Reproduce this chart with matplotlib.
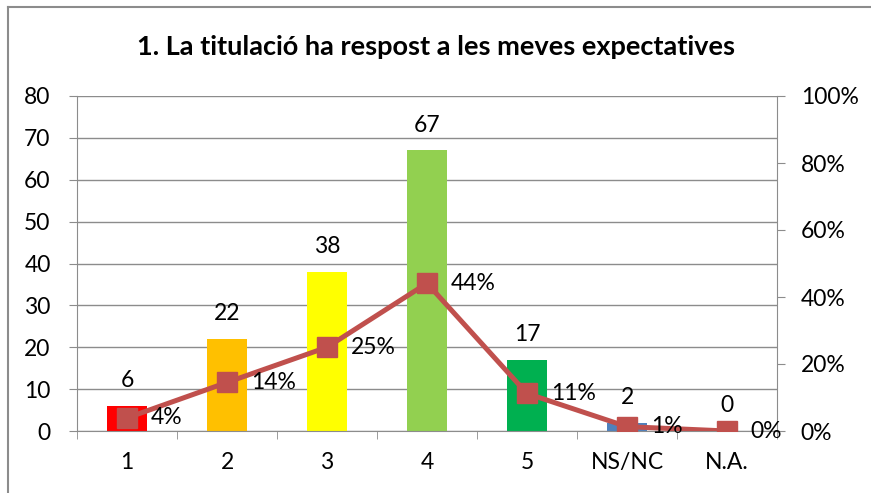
import matplotlib
matplotlib.use("Agg")
import matplotlib.pyplot as plt
from matplotlib.lines import Line2D

categories = ["1", "2", "3", "4", "5", "NS/NC", "N.A."]
counts = [6, 22, 38, 67, 17, 2, 0]
percents = [0.039, 0.145, 0.25, 0.441, 0.112, 0.013, 0.0]
pct_labels = ["4%", "14%", "25%", "44%", "11%", "1%", "0%"]
bar_colors = ["#FF0000", "#FFC000", "#FFFF00", "#92D050", "#00B050", "#4F81BD", "#4F81BD"]
title = "1. La titulació ha respost a les meves expectatives"

plt.rcParams['font.family'] = ['Lato', 'DejaVu Sans']

W, H = 871, 493
FS = 16.5
fig = plt.figure(figsize=(W / 100, H / 100), dpi=100)
ax = fig.add_axes([77 / W, 1 - 431 / H, 700 / W, (431 - 96) / H])
ax2 = ax.twinx()

x = list(range(len(categories)))
ax.bar(x, counts, width=0.4, color=bar_colors, zorder=2)
ax.set_xlim(-0.5, len(categories) - 0.5)
ax.set_ylim(0, 80)
ax.set_yticks(range(0, 81, 10))
ax.grid(axis='y', color='#8c8c8c', linewidth=1.0, zorder=0)
ax.set_axisbelow(True)

gray = '#8c8c8c'
for s in ['top']:
    ax.spines[s].set_visible(False)
    ax2.spines[s].set_visible(False)
for a in (ax, ax2):
    a.spines['left'].set_color(gray)
    a.spines['right'].set_color(gray)
    a.spines['bottom'].set_color(gray)
ax.spines['right'].set_visible(False)
ax2.spines['left'].set_visible(False)
ax2.spines['bottom'].set_visible(False)

ax.set_xticks(x)
ax.set_xticklabels(categories)
ax.set_xticks([i + 0.5 for i in range(-1, len(categories))], minor=True)
ax.tick_params(axis='x', which='major', length=0, pad=15, labelsize=FS)
ax.tick_params(axis='x', which='minor', length=6, color=gray, direction='out')
ax.tick_params(axis='y', length=6, color=gray, labelsize=FS, pad=13)

ax2.plot(x, percents, color='#C0504D', linewidth=3.6, marker='s',
         markersize=15, markerfacecolor='#C0504D', markeredgecolor='#C0504D', zorder=3)
ax2.set_ylim(0, 1)
ax2.set_yticks([0, 0.2, 0.4, 0.6, 0.8, 1.0])
ax2.set_yticklabels(["0%", "20%", "40%", "60%", "80%", "100%"])
ax2.tick_params(axis='y', length=6, color=gray, labelsize=FS, pad=11)

for xi, c in zip(x, counts):
    ax.annotate(str(c), (xi, c), xytext=(0, 10.5), textcoords='offset points',
                ha='center', va='bottom', fontsize=FS)
for xi, p, lab in zip(x, percents, pct_labels):
    ax2.annotate(lab, (xi, p), xytext=(17, 0), textcoords='offset points',
                 ha='left', va='center', fontsize=FS)

fig.text(0.5, 1 - 47 / H, title, ha='center', va='center', fontsize=19.5, fontweight='bold')

# chart frame
fig.add_artist(Line2D([7.5 / W, 7.5 / W], [0, 1 - 6.5 / H], color='#8c8c8c', linewidth=1.5, transform=fig.transFigure))
fig.add_artist(Line2D([7.5 / W, 1], [1 - 6.5 / H, 1 - 6.5 / H], color='#8c8c8c', linewidth=1.5, transform=fig.transFigure))

fig.savefig("out.png", dpi=100)
